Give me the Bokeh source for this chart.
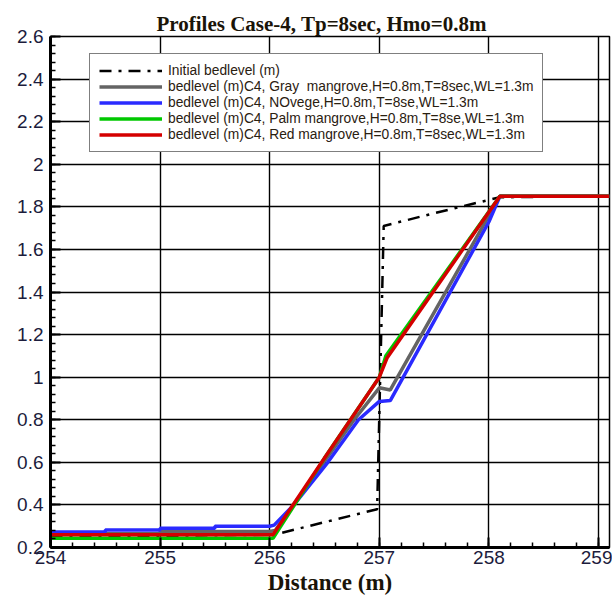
import numpy as np
from bokeh.plotting import figure
from bokeh.models import Range1d, FixedTicker, Legend, LegendItem
from bokeh.embed import file_html
from bokeh.resources import INLINE

# ---- data ----
initial_x = [254.0, 256.04, 256.98, 257.04, 257.5, 258.1, 259.1]
initial_y = [0.25, 0.26, 0.38, 1.71, 1.77, 1.845, 1.85]

gray_x = [254.0, 255.0, 255.0, 256.0, 256.05, 256.77, 257.0, 257.1, 258.1, 259.1]
gray_y = [0.265, 0.265, 0.275, 0.275, 0.28, 0.8, 0.95, 0.94, 1.85, 1.85]

blue_x = [254.0, 254.5, 254.5, 255.0, 255.0, 255.5, 255.5, 256.0, 256.04, 256.22,
          256.53, 256.81, 257.0, 257.1, 258.0, 258.1, 259.1]
blue_y = [0.273, 0.273, 0.282, 0.282, 0.29, 0.29, 0.30, 0.30, 0.305, 0.4,
          0.6, 0.8, 0.886, 0.89, 1.73, 1.85, 1.85]

green_x = [254.0, 256.03, 256.5, 257.0, 257.06, 258.1, 259.1]
green_y = [0.243, 0.243, 0.62, 1.0, 1.10, 1.85, 1.85]

red_x = [254.0, 256.03, 256.5, 257.0, 257.07, 258.1, 259.1]
red_y = [0.26, 0.26, 0.62, 1.0, 1.09, 1.85, 1.85]

series_labels = [
    "Initial bedlevel (m)",
    "bedlevel (m)C4, Gray  mangrove,H=0.8m,T=8sec,WL=1.3m",
    "bedlevel (m)C4, NOvege,H=0.8m,T=8se,WL=1.3m",
    "bedlevel (m)C4, Palm mangrove,H=0.8m,T=8se,WL=1.3m",
    "bedlevel (m)C4, Red mangrove,H=0.8m,T=8sec,WL=1.3m",
]

x_tick_values = [254, 255, 256, 257, 258, 259]
x_tick_labels = ["254", "255", "256", "257", "258", "259"]
y_tick_values = [0.2, 0.4, 0.6, 0.8, 1.0, 1.2, 1.4, 1.6, 1.8, 2.0, 2.2, 2.4, 2.6]
y_tick_labels = ["0.2", "0.4", "0.6", "0.8", "1", "1.2", "1.4", "1.6", "1.8", "2", "2.2", "2.4", "2.6"]

title_text = "Profiles Case-4, Tp=8sec, Hmo=0.8m"
x_label = "Distance (m)"

# ---- figure ----
p = figure(width=612, height=598, x_range=Range1d(254, 259.1), y_range=Range1d(0.2, 2.6),
           output_backend="svg", toolbar_location=None, title=title_text)
p.min_border_left = 50
p.min_border_right = 3
p.min_border_top = 36
p.min_border_bottom = 51

p.title.align = "left"
p.title.offset = 106
p.title.text_font = "Liberation Serif"
p.title.text_font_size = "21px"
p.title.text_font_style = "bold"
p.title.text_color = "#1a1408"
p.title.standoff = 2

p.outline_line_color = "black"
p.outline_line_width = 1.5
p.background_fill_color = "white"
p.border_fill_color = "white"

for g in (p.xgrid[0], p.ygrid[0]):
    g.grid_line_color = "black"
    g.grid_line_width = 1.4
p.xgrid.ticker = FixedTicker(ticks=x_tick_values)
p.ygrid.ticker = FixedTicker(ticks=y_tick_values)

x_minor = list(np.round(np.arange(254.0, 259.11, 0.2), 3))
y_minor = list(np.round(np.arange(0.2, 2.601, 0.04), 3))

xa = p.xaxis[0]
xa.ticker = FixedTicker(ticks=x_tick_values, minor_ticks=x_minor)
xa.major_label_overrides = dict(zip(x_tick_values, x_tick_labels))
ya = p.yaxis[0]
ya.ticker = FixedTicker(ticks=y_tick_values, minor_ticks=y_minor)
ya.major_label_overrides = dict(zip(y_tick_values, y_tick_labels))

for ax in (xa, ya):
    ax.axis_line_color = "black"
    ax.axis_line_width = 3
    ax.major_tick_line_color = "black"
    ax.major_tick_line_width = 2
    ax.major_tick_in = 10
    ax.major_tick_out = 0
    ax.minor_tick_line_color = "black"
    ax.minor_tick_line_width = 1.5
    ax.minor_tick_in = 5
    ax.minor_tick_out = 0
    ax.major_label_text_font = "Liberation Sans"
    ax.major_label_text_font_size = "19px"
    ax.major_label_text_color = "#1c1c3c"
xa.major_label_standoff = 3
ya.major_label_standoff = 7

xa.axis_label = x_label
xa.axis_label_text_font = "Liberation Serif"
xa.axis_label_text_font_size = "23px"
xa.axis_label_text_font_style = "bold"
xa.axis_label_text_color = "#1a1408"
xa.axis_label_standoff = 3

# ---- lines ----
r0 = p.line(initial_x, initial_y, line_color="black", line_width=2.5, line_dash="12 7 3 7")
r1 = p.line(gray_x, gray_y, line_color="#646464", line_width=3.5)
r2 = p.line(blue_x, blue_y, line_color="#2a2aff", line_width=3.5)
r3 = p.line(green_x, green_y, line_color="#00c800", line_width=3.5)
r4 = p.line(red_x, red_y, line_color="#d40000", line_width=3.5)

legend = Legend(items=[LegendItem(label=l, renderers=[r]) for l, r in
                       zip(series_labels, [r0, r1, r2, r3, r4])],
                location=(39, 395))
legend.label_text_font = "Liberation Sans"
legend.label_text_font_size = "13.8px"
legend.label_text_color = "#2a2010"
legend.glyph_width = 63
legend.glyph_height = 15
legend.label_height = 15
legend.label_standoff = 6
legend.spacing = 1
legend.padding = 9
legend.border_line_color = "black"
legend.border_line_width = 1.5
legend.background_fill_alpha = 1.0
p.add_layout(legend, "center")

open("out.html", "w").write(file_html(p, INLINE))
